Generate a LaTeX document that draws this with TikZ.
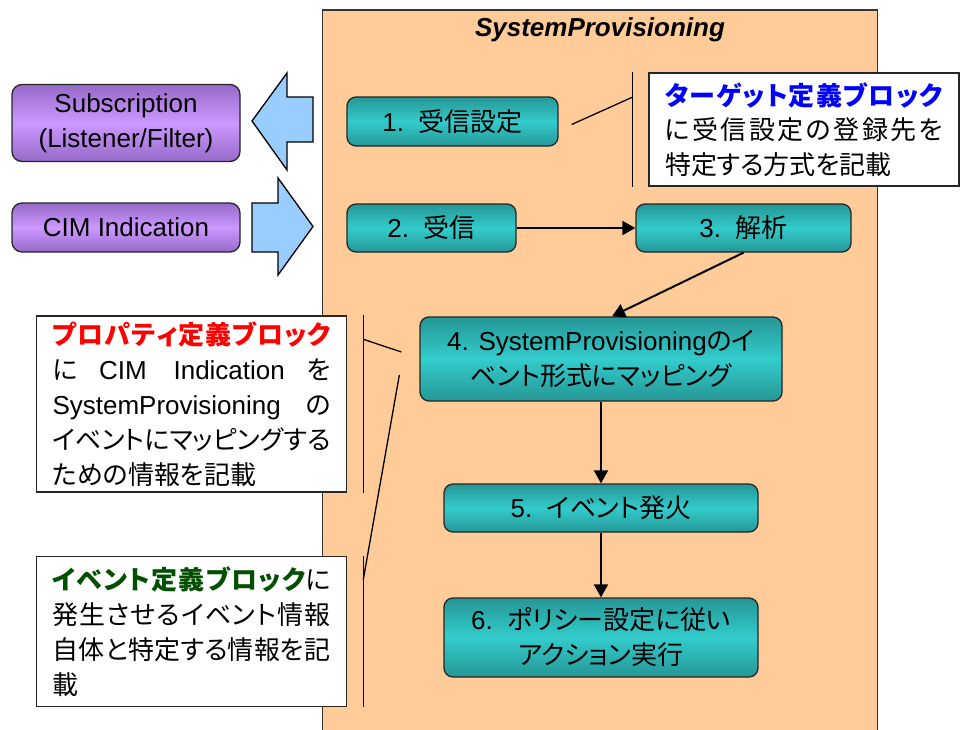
\documentclass[tikz,border=0pt]{standalone}
\usepackage{fontspec}
\setmainfont{Liberation Sans}
\newfontfamily\jpfont{Noto Sans CJK JP}[Script=CJK, RawFeature=+palt]
\newcommand{\jtxt}[1]{{\jpfont #1}}
\XeTeXlinebreaklocale "ja"
\XeTeXlinebreakskip=0pt plus 2pt minus 3pt
\usetikzlibrary{arrows.meta}
\definecolor{spframe}{RGB}{255,204,153}
\definecolor{proclight}{RGB}{51,204,204}
\definecolor{procdark}{RGB}{38,150,150}
\definecolor{extlight}{RGB}{204,153,255}
\definecolor{extdark}{RGB}{150,105,200}
\definecolor{blkblue}{RGB}{153,204,255}
\definecolor{tgtblue}{RGB}{0,0,255}
\definecolor{evgreen}{RGB}{0,80,0}
\begin{document}
\begin{tikzpicture}[x=1pt, y=-1pt,
                spbox/.style = {draw=black!80, line width=1.3pt, fill=spframe, minimum width=555pt, minimum height=730pt},
                proc/.style = {draw=black!85, line width=1.3pt, rounded corners=9pt, top color=procdark, bottom color=procdark, middle color=proclight, inner sep=0pt, align=center, font=\fontsize{26}{35}\selectfont},
                ext/.style = {draw=black!85, line width=1.3pt, rounded corners=10pt, top color=extdark, bottom color=extdark, middle color=extlight, inner sep=0pt, align=center, font=\fontsize{26}{35}\selectfont},
                note/.style = {draw=black!85, line width=1.5pt, fill=white, inner xsep=16pt, inner ysep=0pt, align=justify, text width=278pt, font=\jpfont\fontsize{26}{35}\selectfont},
                blk/.style = {draw=black, line width=1.3pt, fill=blkblue, line join=miter},
                arr/.style = {draw, line width=2pt, -{Triangle[length=13pt, width=14pt]}},
                callbar/.style = {draw, line width=1.3pt},
            ]
            \useasboundingbox (0,0) rectangle (961,729);

            \node (sp) [spbox] at (600, 375) {};
            \node (title) [font=\bfseries\itshape\fontsize{26}{30}\selectfont] at (600, 30) {SystemProvisioning};

            \node (sub) [ext, minimum width=228pt, minimum height=77pt] at (126, 123) {Subscription\\(Listener/Filter)};
            \node (cim) [ext, minimum width=228pt, minimum height=49pt] at (126, 227.5) {CIM Indication};

            \path[blk] (252,121) -- (287,73) -- (287,97) -- (313,97) -- (313,142) -- (287,142) -- (287,170) -- cycle;
            \path[blk] (252,203) -- (278,203) -- (278,178) -- (313,226.5) -- (278,275) -- (278,252) -- (252,252) -- cycle;

            \node (s1) [proc, minimum width=211pt, minimum height=49pt] at (452.5, 121.5) {1.\ \ \jtxt{受信設定}};
            \node (s2) [proc, minimum width=169pt, minimum height=48pt] at (431.5, 228) {2.\ \ \jtxt{受信}};
            \node (s3) [proc, minimum width=215pt, minimum height=48pt] at (743.5, 228) {3.\ \ \jtxt{解析}};
            \node (s4) [proc, minimum width=362pt, minimum height=84pt] at (601, 359) {4. SystemProvisioning\jtxt{のイ}\\\jtxt{ベント形式にマッピング}};
            \node (s5) [proc, minimum width=314pt, minimum height=48pt] at (601, 508) {5.\ \ \jtxt{イベント発火}};
            \node (s6) [proc, minimum width=314pt, minimum height=79pt] at (601, 637.5) {6.\ \ \jtxt{ポリシー設定に従い}\\\jtxt{アクション実行}};

            \node (tgtnote) [note, minimum height=113pt, font=\jpfont\fontsize{26}{34.5}\selectfont] at (804, 129.5) {\textcolor{tgtblue}{\bfseries ターゲット定義ブロック}\linebreak に受信設定の登録先を\linebreak 特定する方式を記載};
            \node (propnote) [note, minimum height=176pt] at (191.5, 404) {\textcolor{red}{\bfseries プロパティ定義ブロック}\linebreak に {\rmfamily CIM Indication} を\linebreak {\rmfamily SystemProvisioning} の\linebreak イベントにマッピングする\linebreak ための情報を記載};
            \node (evnote) [note, minimum height=150pt] at (191.5, 631.5) {\textcolor{evgreen}{\bfseries イベント定義ブロック}に\linebreak 発生させるイベント情報\linebreak 自体と特定する情報を記\linebreak 載};

            \path[callbar] ([xshift=-16pt]tgtnote.north west) -- ([xshift=-16pt]tgtnote.south west);
            \path[callbar] ([xshift=-16pt, yshift=-25pt]tgtnote.north west) -- ([xshift=13pt, yshift=-3pt]s1.east);

            \path[callbar] ([xshift=16pt]propnote.north east) -- ([xshift=16pt]propnote.south east);
            \path[callbar] ([xshift=16pt, yshift=-24pt]propnote.north east) -- ([xshift=-18pt, yshift=7pt]s4.west);

            \path[callbar] ([xshift=16pt]evnote.north east) -- ([xshift=16pt]evnote.south east);
            \path[callbar] ([xshift=16pt, yshift=-24pt]evnote.north east) -- ([xshift=-20pt, yshift=-16pt]s4.west);

            \path[arr] (s2) -- (s3);
            \path[arr] (s3.south) -- ([xshift=11pt]s4.north);
            \path[arr] (s4) -- (s5);
            \path[arr] (s5) -- (s6);
        \end{tikzpicture}
\end{document}
